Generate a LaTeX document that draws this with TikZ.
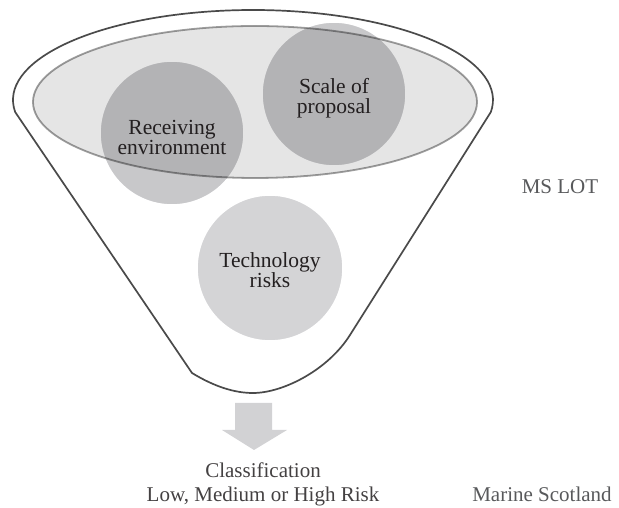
\documentclass[tikz,border=0pt]{standalone}
\usepackage{fontspec}
\setmainfont{Liberation Serif}
\definecolor{funnelline}{HTML}{4A4A4A}
\definecolor{circdark}{HTML}{C8C8CA}
\definecolor{circlight}{HTML}{D4D4D6}
\definecolor{arrowgray}{HTML}{D2D2D4}
\definecolor{txtdark}{HTML}{231F20}
\definecolor{txtgray}{HTML}{58595B}
\tikzset{
  bubble/.style={circle, draw=white, line width=1.6pt, minimum size=#1, inner sep=0pt},
  bubbletext/.style={align=center, text=txtdark, inner sep=0pt,
    font=\fontsize{21.5}{20}\selectfont},
  sidelabel/.style={text=txtgray, font=\fontsize{21}{24}\selectfont, inner sep=0pt},
}
\begin{document}
\begin{tikzpicture}[x=1pt,y=1pt]
\useasboundingbox (0,0) rectangle (619,508);
% funnel outline
\draw[funnelline, line width=1.7pt, line join=round]
  (253,408) ++(187.7:240 and 90) coordinate (fl)
  arc[start angle=187.7, end angle=-7.7, x radius=240, y radius=90] coordinate (fr)
  -- (350,173) coordinate (rb)
  .. controls (328,138) and (283,115) .. (253,115) coordinate (fb)
  .. controls (235,115) and (215,121) .. (192,135) coordinate (lb)
  -- cycle;
% circles
\node[bubble=146pt, fill=circlight] (tech) at (270,240) {};
\node[bubble=144pt, fill=circdark] (recv) at (172,375) {};
\node[bubble=144pt, fill=circdark] (scale) at (334,414) {};
% translucent ellipse on top
\path[fill=black, fill opacity=0.1, draw=black, draw opacity=0.38, line width=1.8pt]
  (255,406) ellipse[x radius=222, y radius=76];
% circle texts
\node[bubbletext] (techtext) at ([yshift=-2pt]tech.center) {Technology\\risks};
\node[bubbletext] (recvtext) at ([yshift=-4pt]recv.center) {Receiving\\environment};
\node[bubbletext] (scaletext) at ([yshift=-4pt]scale.center) {Scale of\\proposal};
% block arrow
\fill[arrowgray] (235,105) -- (272,105) -- (272,78) -- (287,78) -- (254,58)
  -- (222,78) -- (235,78) -- cycle;
% labels
\node[sidelabel, text=txtdark!85, anchor=base] (cls) at (263,30) {Classification};
\node[sidelabel, text=txtdark!85, anchor=base] (risk) at (263,6) {Low, Medium or High Risk};
\node[sidelabel, anchor=base] (ms) at (542,6) {Marine Scotland};
\node[sidelabel, anchor=base] (mslot) at (560,314) {MS LOT};
\end{tikzpicture}
\end{document}
